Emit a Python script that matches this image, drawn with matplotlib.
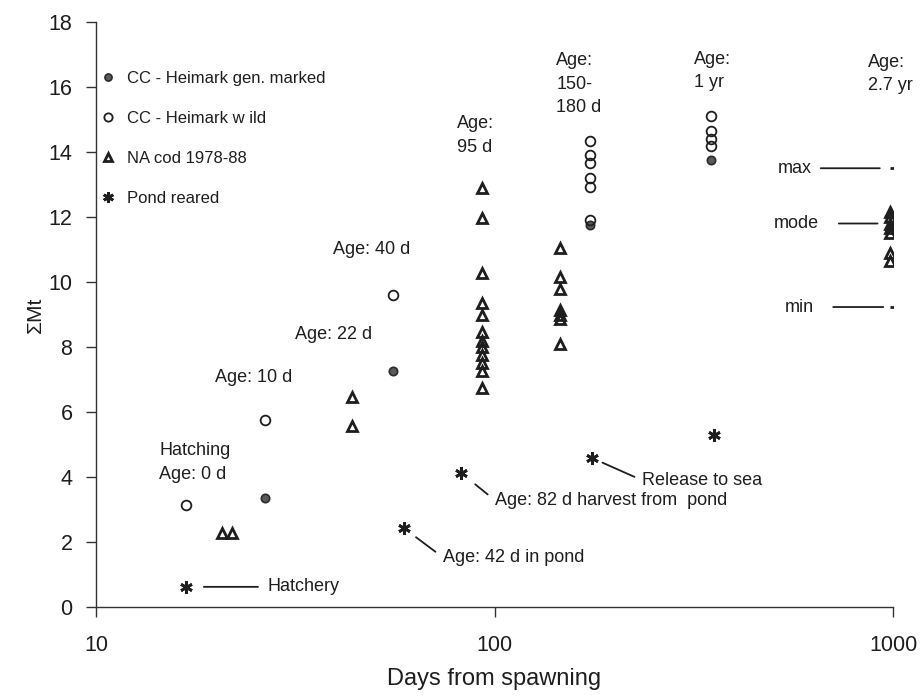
import matplotlib.pyplot as plt

plt.rcParams['font.family'] = ['Liberation Sans', 'DejaVu Sans']
ink = '#1e1e1e'

# CC - Heimark gen. marked
marked_days = [26.5, 55.5, 174, 350]
marked_mt = [3.35, 7.25, 11.75, 13.75]

# CC - Heimark wild
wild_days = [16.8, 26.5, 55.5, 174, 174, 174, 174, 174, 174, 350, 350, 350, 350]
wild_mt = [3.14, 5.75, 9.6, 14.33, 13.9, 13.65, 13.19, 12.91, 11.9, 15.1, 14.65, 14.4, 14.2]

# NA cod 1978-88
cod_days = [20.7, 22.0, 44, 44] + [93] * 12 + [146] * 7 + [980] * 7
cod_mt = [2.28, 2.28, 6.46, 5.57,
          12.88, 11.96, 10.27, 9.35, 8.98, 8.45, 8.2, 8.0, 7.75, 7.5, 7.25, 6.74,
          11.05, 10.15, 9.8, 9.15, 9.0, 8.85, 8.1,
          12.15, 12.0, 11.8, 11.65, 11.5, 10.9, 10.65]

# Pond reared
pond_days = [16.8, 59.2, 82.6, 176, 355]
pond_mt = [0.62, 2.43, 4.12, 4.58, 5.29]
pond_notes = ['Hatchery', 'Age: 42 d in pond', 'Age: 82 d harvest from  pond', 'Release to sea']

# range at 2.7 yr
range_day = 1000
max_mt = 13.5
min_mt = 9.23
mode_mt = 11.8

age_labels = ['Hatching\nAge: 0 d', 'Age: 10 d', 'Age: 22 d', 'Age: 40 d', 'Age:\n95 d',
              'Age:\n150-\n180 d', 'Age:\n1 yr', 'Age:\n2.7 yr']
age_x = [14.4, 19.9, 31.5, 39.3, 80.7, 142.9, 317, 865]
age_y = [4.45, 7.05, 8.37, 11.0, 14.5, 16.09, 16.49, 16.4]

fig = plt.figure(figsize=(9.21, 6.97), dpi=100)
ax = fig.add_axes([96 / 921, 1 - 607 / 697, 797 / 921, 585 / 697])

ax.plot(marked_days, marked_mt, 'o', ms=6, mfc='#5a5a5a', mec='#2a2a2a', mew=1.2,
        label='CC - Heimark gen. marked')
ax.plot(wild_days, wild_mt, 'o', ms=7, mfc='none', mec=ink, mew=1.3,
        label='CC - Heimark w ild')
ax.plot(cod_days, cod_mt, '^', ms=7.5, mfc='none', mec=ink, mew=2.0,
        label='NA cod 1978-88')
ax.plot(pond_days, pond_mt, marker=(6, 2, 0), ls='none', ms=9, mec=ink, mew=2.0,
        label='Pond reared')
ax.plot([range_day, range_day], [max_mt, min_mt], '_', ms=5, mec=ink, mew=2.0)

ax.set_xscale('log')
ax.set_xlim(10, 1000)
ax.set_ylim(0, 18)
ax.set_xticks([10, 100, 1000])
ax.set_xticklabels(['10', '100', '1000'])
ax.minorticks_off()
ax.set_yticks(range(0, 19, 2))
for s in ['top', 'right']:
    ax.spines[s].set_visible(False)
for s in ['left', 'bottom']:
    ax.spines[s].set_color('#333333')
    ax.spines[s].set_linewidth(1.0)
ax.tick_params(axis='both', direction='out', length=7, width=1.0, color='#333333',
               labelsize=15.5, labelcolor=ink)
ax.tick_params(axis='y', pad=10)
ax.tick_params(axis='x', pad=13)

ax.set_xlabel('Days from spawning', fontsize=17, color=ink)
ax.xaxis.set_label_coords(0.5, -0.104)
ax.set_ylabel('\u03a3Mt', fontsize=15, color=ink)
ax.yaxis.set_label_coords(-0.064, 0.5)

for lab, x, y in zip(age_labels, age_x, age_y):
    ax.text(x, y, lab, fontsize=13, color=ink, ha='left', va='center', linespacing=1.5)

# pond notes
offsets = [(59, 0), (28, -21), (24, -19.5), (36, -16)]
shrinks = [(5, 13), (4, 11), (4, 12.8), (4, 8)]
for d, m, note, off, sh in zip(pond_days, pond_mt, pond_notes, offsets, shrinks):
    ax.annotate(note, xy=(d, m), xytext=off, textcoords='offset points',
                fontsize=13, color=ink, ha='left', va='center',
                arrowprops=dict(arrowstyle='-', color=ink, lw=1.3, relpos=(0, 0.5),
                                shrinkA=sh[0], shrinkB=sh[1]))

for lab, xref, y, off, sh in [('max', range_day, max_mt, -83, (4.5, 9.5)),
                              ('mode', cod_days[-1], mode_mt, -83, (12, 8.6)),
                              ('min', range_day, min_mt, -78, (12, 7))]:
    ax.annotate(lab, xy=(xref, y), xytext=(off, 0), textcoords='offset points',
                fontsize=13, color=ink, ha='left', va='center',
                arrowprops=dict(arrowstyle='-', color=ink, lw=1.3, relpos=(1, 0.5),
                                shrinkA=sh[0], shrinkB=sh[1]))

ax.legend(loc='upper left', bbox_to_anchor=(0.005, 0.917), frameon=False, fontsize=12,
          handlelength=1.0, handletextpad=0.6, labelspacing=1.5, borderpad=0,
          borderaxespad=0, markerscale=0.85, labelcolor=ink)

fig.savefig('out.png', dpi=100)
